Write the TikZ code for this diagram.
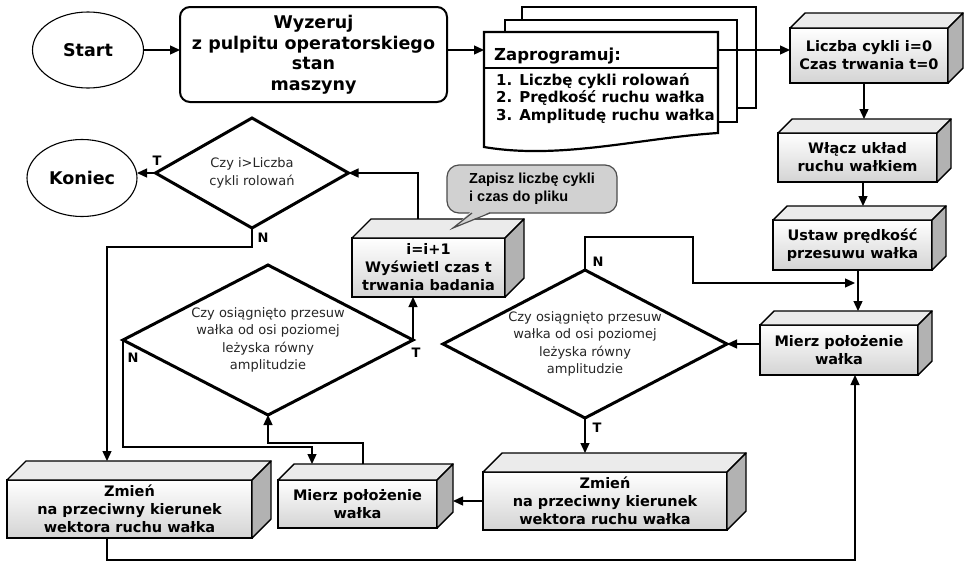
\documentclass[tikz,border=0pt]{standalone}
\usepackage{fontspec}
\setmainfont{DejaVu Sans}
\newfontfamily\notefont{Liberation Sans}
\usetikzlibrary{shapes.geometric,arrows.meta}
\tikzset{
  arr/.style={line width=1.3pt,-{Triangle[length=10pt,width=9pt]}},
  frontface/.style={draw, line width=1.4pt, outer sep=0pt, inner sep=0pt, top color=white, bottom color=black!17, align=center, font=\bfseries\fontsize{14.5}{18}\selectfont},
  topface/.style={draw, line width=1.4pt, fill=black!8, line join=round},
  sideface/.style={draw, line width=1.4pt, fill=black!30, line join=round},
  term/.style={ellipse, draw, line width=1.1pt, inner sep=0pt, outer sep=0pt, font=\bfseries\fontsize{17.5}{20}\selectfont},
  diamtext/.style={inner sep=0pt, outer sep=0pt, align=center, text=black!85, font=\fontsize{13}{17.5}\selectfont},
  diamline/.style={line width=3pt},
  lbl/.style={font=\bfseries\fontsize{13}{13}\selectfont, inner sep=0pt},
  docline/.style={draw, fill=white, line width=2.2pt},
}
\newcommand\cubebox[6]{%
  \node[frontface, minimum width=#3pt, minimum height=#4pt] (#1) at #2 {#6};
  \filldraw[topface] (#1.north west) -- ++(#5,-#5) -- ([shift={(#5,-#5)}]#1.north east) -- (#1.north east) -- cycle;
  \filldraw[sideface] (#1.north east) -- ([shift={(#5,-#5)}]#1.north east) -- ([shift={(#5,-#5)}]#1.south east) -- (#1.south east) -- cycle;
  \coordinate (#1-t) at ([shift={(#5,-#5)}]#1.north);
  \coordinate (#1-r) at ([shift={(#5,0)}]#1.east);
}
\begin{document}
\begin{tikzpicture}[x=1pt,y=-1pt]
\useasboundingbox (0,0) rectangle (964,563);
\fill[white] (0,0) rectangle (964,563);

% terminals
\node[term, minimum width=111pt, minimum height=76pt] (start) at (88,50) {Start};
\node[term, minimum width=110pt, minimum height=77pt] (koniec) at (82,178) {Koniec};

% reset box
\node[draw, rounded corners=10pt, line width=2pt, minimum width=267pt, minimum height=95pt, inner sep=0pt, outer sep=0pt, align=center, font=\bfseries\fontsize{17.5}{20.5}\selectfont] (wyz) at (313.5,54.5) {Wyzeruj\\z pulpitu operatorskiego\\stan\\maszyny};

% document stack
\filldraw[docline] (522,7) rectangle (756,108);
\filldraw[docline] (505,20) rectangle (737,122);
\node[inner sep=0pt, outer sep=0pt, minimum width=234pt, minimum height=36pt, anchor=north west] (prog) at (484,32) {};
\filldraw[docline] (prog.north west) -- (prog.north east) -- (718,133) .. controls (640,138) and (560,160) .. (484,147) -- cycle;
\draw[line width=2pt] (prog.south west) -- (prog.south east);
\node[anchor=west, inner sep=0pt, font=\bfseries\fontsize{16.5}{19}\selectfont] (progh) at (494,56) {Zaprogramuj:};
\node[anchor=north west, align=left, inner sep=0pt, font=\bfseries\fontsize{15}{17.5}\selectfont] (progl) at (496,73) {1. Liczbę cykli rolowań\\2. Prędkość ruchu wałka\\3. Amplitudę ruchu wałka};

% 3D boxes
\cubebox{liczba}{(869,55.5)}{158}{55}{15}{Liczba cykli i=0\\Czas trwania t=0}
\cubebox{wlacz}{(857.5,157.5)}{159}{49}{14}{Włącz układ\\ruchu wałkiem}
\cubebox{ustaw}{(852.5,245)}{159}{50}{14}{Ustaw prędkość\\przesuwu wałka}
\cubebox{mierzR}{(839,350)}{158}{50}{14}{Mierz położenie\\wałka}
\cubebox{iinc}{(428.5,267.5)}{153}{59}{19}{i=i+1\\Wyświetl czas t\\trwania badania}
\cubebox{zmienR}{(605,501)}{244}{58}{19}{Zmień\\na przeciwny kierunek\\wektora ruchu wałka}
\cubebox{mierzM}{(357.5,504)}{159}{48}{16}{Mierz położenie\\wałka}
\cubebox{zmienL}{(129.5,509)}{245}{58}{19}{Zmień\\na przeciwny kierunek\\wektora ruchu wałka}

% decisions
\node[diamtext, minimum width=193pt, minimum height=110pt] (d0) at (252,173) {\raisebox{-4pt}{\begin{tabular}{@{}c@{}}Czy i>Liczba\\cykli rolowań\end{tabular}}};
\draw[diamline] (d0.north) -- (d0.east) -- (d0.south) -- (d0.west) -- cycle;
\node[diamtext, minimum width=290pt, minimum height=150pt] (d1) at (268,340) {Czy osiągnięto przesuw\\wałka od osi poziomej\\leżyska równy\\amplitudzie};
\draw[diamline] (d1.north) -- (d1.east) -- (d1.south) -- (d1.west) -- cycle;
\node[diamtext, minimum width=284pt, minimum height=148pt] (d2) at (585,344) {Czy osiągnięto przesuw\\wałka od osi poziomej\\leżyska równy\\amplitudzie};
\draw[diamline] (d2.north) -- (d2.east) -- (d2.south) -- (d2.west) -- cycle;

% connectors
\draw[arr] (start.east) -- (start.east -| wyz.west);
\draw[arr] (wyz.east |- start.east) -- (start.east -| prog.west);
\draw[arr] (prog.east |- start.east) -- (start.east -| liczba.west);
\draw[arr] ([xshift=-5pt]liczba.south) -- ([xshift=-5pt]liczba.south |- wlacz-t);
\draw[arr] ([xshift=5.5pt]wlacz.south) -- ([xshift=5.5pt]wlacz.south |- ustaw-t);
\draw[arr] ([xshift=5.5pt]ustaw.south) -- ([xshift=5.5pt]ustaw.south |- mierzR-t);
\coordinate (nl1) at (693,237);
\coordinate (nl2) at (855,283);
\draw[arr] (d2.north) |- (nl1) |- (nl2);
\draw[arr] (mierzR.west |- d2.east) -- (d2.east);
\draw[arr] (d2.south) -- (d2.south |- zmienR-t);
\draw[arr] (zmienR.west) -- (zmienR.west -| mierzM-r);
\draw[arr] ([xshift=-10.5pt]mierzM-t) -- ++(0,-21) -| (d1.south);
\draw[arr] (d1.east) -- (d1.east |- iinc.south);
\draw[arr] ([xshift=-29.5pt]iinc-t) |- (d0.east);
\draw[arr] (d0.west) -- (d0.west -| koniec.east);
\draw[arr] (d0.south) -- ++(0,19) -| ([xshift=-41.5pt]zmienL-t);
\draw[arr] (d1.west) -- ++(0,107) -| ([xshift=-61.5pt]mierzM-t);
\draw[arr] ([xshift=-22.5pt]zmienL.south) -- ++(0,22) -| ([xshift=16pt]mierzR.south);

% callout
\node[draw=black!70, fill=black!18, line width=1.2pt, rounded corners=12pt, minimum width=170pt, minimum height=48pt, inner sep=0pt, outer sep=0pt, align=left, font=\notefont\bfseries\fontsize{14.5}{18}\selectfont] (note) at (532,189) {Zapisz liczbę cykli\\i czas do pliku};
\fill[black!18] ([shift={(-61,-1.5)}]note.south) -- ([shift={(-79,15)}]note.south) -- ([shift={(-41,-1.5)}]note.south) -- cycle;
\draw[black!70, line width=1.2pt] ([xshift=-60pt]note.south) -- ([shift={(-79,15)}]note.south) -- ([xshift=-42pt]note.south);

% labels
\node[lbl] (tK) at (157,161) {T};
\node[lbl] (n0) at (263,238) {N};
\node[lbl] (n2) at (598,262) {N};
\node[lbl] (t2) at (597,428) {T};
\node[lbl] (t1) at (416,353) {T};
\node[lbl] (n1) at (133,358) {N};
\end{tikzpicture}
\end{document}
